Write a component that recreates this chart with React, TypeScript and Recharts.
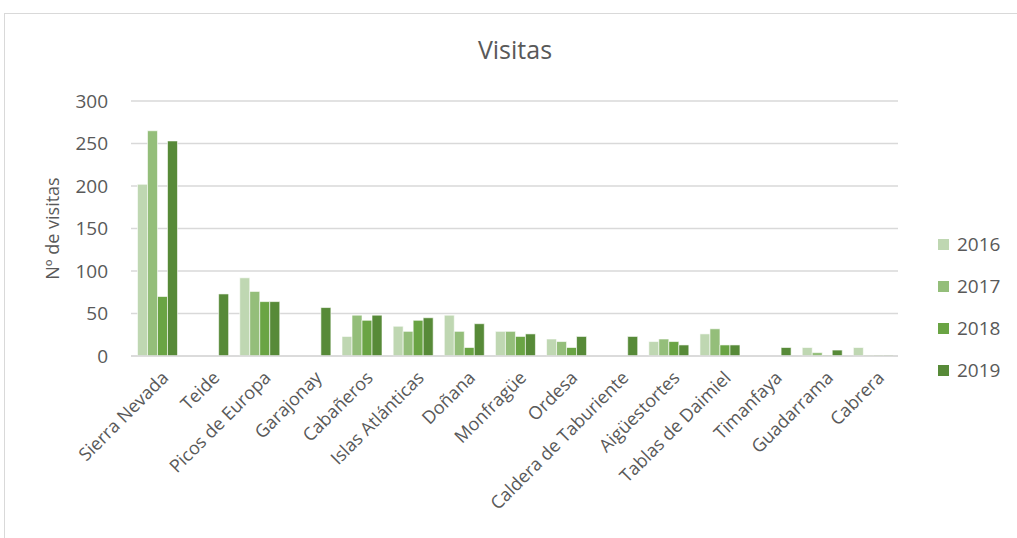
import { BarChart, Bar, XAxis, YAxis, CartesianGrid } from "recharts";

const PARKS = [
  "Sierra Nevada", "Teide", "Picos de Europa", "Garajonay", "Cabañeros",
  "Islas Atlánticas", "Doñana", "Monfragüe", "Ordesa", "Caldera de Taburiente",
  "Aigüestortes", "Tablas de Daimiel", "Timanfaya", "Guadarrama", "Cabrera",
];

const V2016 = [202, 0, 92, 0, 23, 35, 48, 29, 20, 0, 17, 26, 0, 10, 10];
const V2017 = [265, 0, 76, 0, 48, 29, 29, 29, 17, 0, 20, 32, 0, 4, 1];
const V2018 = [70, 0, 64, 0, 42, 42, 10, 23, 10, 0, 17, 13, 0, 1, 1];
const V2019 = [253, 73, 64, 57, 48, 45, 38, 26, 23, 23, 13, 13, 10, 7, 1];

const Y_TICKS = [0, 50, 100, 150, 200, 250, 300];

const SERIES = [
  { key: "2016", color: "#bfd7b2" },
  { key: "2017", color: "#94be7a" },
  { key: "2018", color: "#6aa444" },
  { key: "2019", color: "#578a38" },
];

const data = PARKS.map((name, i) => ({
  name,
  "2016": V2016[i],
  "2017": V2017[i],
  "2018": V2018[i],
  "2019": V2019[i],
}));

const FONT = "'Open Sans', sans-serif";
const TEXT = "#595959";

function XTick(props: any) {
  const { x, y, payload } = props;
  return (
    <g transform={`translate(${x + 4},${y + 6}) rotate(-45)`}>
      <text x={0} y={0} dy="0.7em" textAnchor="end" fill={TEXT} fontSize={18} fontFamily={FONT}>
        {payload.value}
      </text>
    </g>
  );
}

export default function App() {
  return (
    <div style={{ position: "absolute", left: 0, top: 0, width: 1017, height: 538, overflow: "hidden", background: "#fff" }}>
      <div style={{ position: "absolute", left: 4, top: 13, width: 1100, height: 600, border: "1.5px solid #d9d9d9" }} />
      <div style={{ position: "absolute", left: 0, top: 32, width: 1030, textAlign: "center", fontFamily: FONT, fontSize: 25, color: TEXT }}>
        Visitas
      </div>
      <div style={{ position: "absolute", left: 0, top: 0 }}>
        <BarChart
          width={1017}
          height={538}
          data={data}
          margin={{ top: 101, right: 119, bottom: 0, left: 0 }}
          barCategoryGap="12.7%"
          barGap={0}
        >
          <CartesianGrid vertical={false} stroke="#d9d9d9" strokeWidth={1.5} />
          <XAxis
            dataKey="name"
            interval={0}
            axisLine={{ stroke: "#d9d9d9", strokeWidth: 1.5 }}
            tickLine={false}
            tick={<XTick />}
            height={182}
          />
          <YAxis
            width={131}
            domain={[0, 300]}
            ticks={Y_TICKS}
            axisLine={false}
            tickLine={false}
            tickSize={8}
            tickMargin={15}
            tick={{ fill: TEXT, fontSize: 19, fontFamily: FONT }}
            label={{
              value: "Nº de visitas",
              angle: -90,
              position: "insideLeft",
              offset: 53,
              style: { textAnchor: "middle", fill: TEXT, fontSize: 18, fontFamily: FONT },
            }}
          />
          {SERIES.map((s) => (
            <Bar
              key={s.key}
              dataKey={s.key}
              name={s.key}
              fill={s.color}
              stroke="#ffffff"
              strokeWidth={0.6}
              isAnimationActive={false}
            />
          ))}
        </BarChart>
      </div>
      <div style={{ position: "absolute", left: 938, top: 223, fontFamily: FONT }}>
        {SERIES.map((s) => (
          <div key={s.key} style={{ display: "flex", alignItems: "center", height: 42 }}>
            <span style={{ width: 11, height: 11, background: s.color, marginRight: 8 }} />
            <span style={{ fontSize: 19, color: TEXT }}>{s.key}</span>
          </div>
        ))}
      </div>
    </div>
  );
}
